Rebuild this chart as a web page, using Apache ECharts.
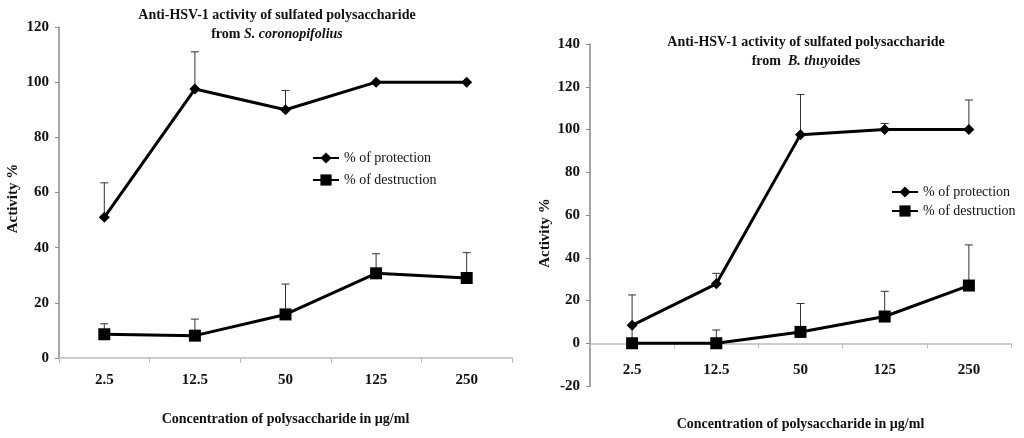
<!DOCTYPE html>
<html>
<head>
<meta charset="utf-8">
<script src="https://cdn.jsdelivr.net/npm/echarts@6/dist/echarts.min.js"></script>
<style>html,body{margin:0;padding:0;background:#fff}#c{width:1024px;height:438px}</style>
</head>
<body>
<div id="c"></div>
<script>
const categories = ['2.5', '12.5', '50', '125', '250'];
// Left chart: S. coronopifolius
const leftProtection = [51, 97.5, 90, 100, 100];
const leftProtectionErr = [12.5, 13.5, 7, 0, 0];
const leftDestruction = [8.6, 8.1, 15.8, 30.7, 29];
const leftDestructionErr = [3.8, 6, 11, 7.1, 9.2];
// Right chart: B. thuyoides
const rightProtection = [8.4, 27.8, 97.6, 100, 100];
const rightProtectionErr = [14.2, 4.9, 18.8, 2.8, 13.8];
const rightDestruction = [0, 0, 5.3, 12.5, 27];
const rightDestructionErr = [8, 6.2, 13.3, 11.8, 19];
const leftYTicks = {min: 0, max: 120, interval: 20};
const rightYTicks = {min: -20, max: 140, interval: 20};

const serif = 'Liberation Serif';
const axisGray = '#8a8a8a';

function errData(vals, errs) {
  return vals.map((v, i) => [i, v, errs[i]]);
}
function errRender(params, api) {
  const x = api.value(0), y = api.value(1), e = api.value(2);
  if (!e) return null;
  const p0 = api.coord([x, y]);
  const p1 = api.coord([x, y + e]);
  return {
    type: 'group',
    children: [
      {type: 'line', shape: {x1: p0[0], y1: p0[1], x2: p1[0], y2: p1[1]}, style: {stroke: '#333', lineWidth: 1}},
      {type: 'line', shape: {x1: p1[0] - 4, y1: p1[1], x2: p1[0] + 4, y2: p1[1]}, style: {stroke: '#333', lineWidth: 1}}
    ]
  };
}

function xAxis(gridIndex, margin, nameGap) {
  return {
    type: 'category', gridIndex, data: categories, boundaryGap: true,
    axisLine: {onZero: true, lineStyle: {color: '#bdbdbd', width: 1.5}},
    axisTick: {show: true, length: 5, lineStyle: {color: '#bdbdbd'}},
    axisLabel: {margin, fontFamily: serif, fontWeight: 'bold', fontSize: 15, color: '#111'},
    name: 'Concentration of polysaccharide in µg/ml', nameLocation: 'middle', nameGap,
    nameTextStyle: {fontFamily: serif, fontWeight: 'bold', fontSize: 14, color: '#111'}
  };
}
function yAxis(gridIndex, ticks, namePad, nameGap) {
  return {
    type: 'value', gridIndex, min: ticks.min, max: ticks.max, interval: ticks.interval,
    splitLine: {show: false},
    axisLine: {show: true, lineStyle: {color: axisGray, width: 1.5}},
    axisTick: {show: true, length: 4, lineStyle: {color: axisGray}},
    axisLabel: {margin: 10, fontFamily: serif, fontWeight: 'bold', fontSize: 15, color: '#111'},
    name: 'Activity %', nameLocation: 'middle', nameGap, nameRotate: 90,
    nameTextStyle: {fontFamily: serif, fontWeight: 'bold', fontSize: 15, color: '#111', padding: namePad}
  };
}
function lineSeries(name, data, symbol, size, idx) {
  return {
    type: 'line', name, data, xAxisIndex: idx, yAxisIndex: idx,
    symbol, symbolSize: size, color: '#000',
    lineStyle: {color: '#000', width: 3}, itemStyle: {color: '#000'}, z: 3
  };
}
function errSeries(vals, errs, idx) {
  return {
    type: 'custom', xAxisIndex: idx, yAxisIndex: idx, renderItem: errRender,
    data: errData(vals, errs), encode: {x: 0, y: 1}, z: 2, silent: true
  };
}

const titleRich = {
  a: {fontFamily: serif, fontWeight: 'bold', fontSize: 14, color: '#111', lineHeight: 19},
  b: {fontFamily: serif, fontWeight: 'bold', fontStyle: 'italic', fontSize: 14, color: '#111', lineHeight: 19}
};
const legendText = {fontFamily: serif, fontSize: 14, color: '#111'};

const chart = echarts.init(document.getElementById('c'));
chart.setOption({
  backgroundColor: '#fff',
  animation: false,
  title: [
    {text: '{a|Anti-HSV-1 activity of sulfated polysaccharide}\n{a|from }{b|S. coronopifolius}',
     left: 277, top: 6, padding: 0, textAlign: 'center', textStyle: {rich: titleRich}},
    {text: '{a|Anti-HSV-1 activity of sulfated polysaccharide}\n{a|from  }{b|B. thuy}{a|oides}',
     left: 806, top: 33, padding: 0, textAlign: 'center', textStyle: {rich: titleRich}}
  ],
  legend: [
    {orient: 'vertical', left: 312, top: 151, padding: 0, itemWidth: 26, itemHeight: 14, itemGap: 8,
     data: ['% of protection', '% of destruction'], textStyle: legendText, selectedMode: false},
    {orient: 'vertical', left: 891, top: 185, padding: 0, itemWidth: 26, itemHeight: 14, itemGap: 5,
     data: ['% of protection', '% of destruction'], textStyle: legendText, selectedMode: false}
  ],
  grid: [
    {left: 59, right: 512, top: 27, bottom: 80, containLabel: false, outerBoundsMode: 'none'},
    {left: 590, right: 13, top: 44, bottom: 52, containLabel: false, outerBoundsMode: 'none'}
  ],
  xAxis: [xAxis(0, 15, 54), xAxis(1, -23, 31)],
  yAxis: [yAxis(0, leftYTicks, [0, 12, 0, 0], 38), yAxis(1, rightYTicks, [0, 36, 0, 0], 37)],
  series: [
    errSeries(leftProtection, leftProtectionErr, 0),
    errSeries(leftDestruction, leftDestructionErr, 0),
    lineSeries('% of protection', leftProtection, 'diamond', 11, 0),
    lineSeries('% of destruction', leftDestruction, 'rect', 12, 0),
    errSeries(rightProtection, rightProtectionErr, 1),
    errSeries(rightDestruction, rightDestructionErr, 1),
    lineSeries('% of protection', rightProtection, 'diamond', 11, 1),
    lineSeries('% of destruction', rightDestruction, 'rect', 12, 1)
  ]
});
</script>
</body>
</html>
